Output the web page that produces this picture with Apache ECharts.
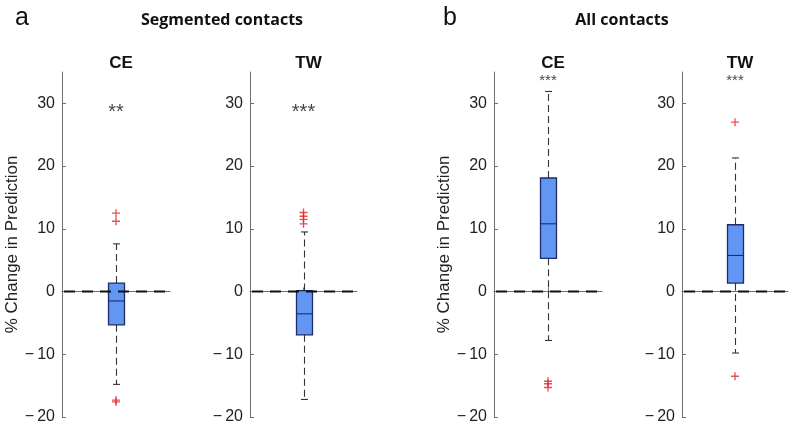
<!DOCTYPE html>
<html><head><meta charset="utf-8">
<script src="https://cdn.jsdelivr.net/npm/echarts@6/dist/echarts.min.js"></script>
<style>html,body{margin:0;padding:0;background:#fff}#c{width:800px;height:434px}</style>
</head><body><div id="c"></div>
<script>
// ---- data ----
const panelNames = ['CE', 'TW', 'CE', 'TW'];
const groupTitles = ['Segmented contacts', 'All contacts'];
const groupLetters = ['a', 'b'];
// [lower whisker, Q1, median, Q3, upper whisker]
const boxAce = [-14.8, -5.3, -1.5, 1.35, 7.6];
const boxAtw = [-17.2, -6.9, -3.55, 0.15, 9.5];
const boxBce = [-7.8, 5.3, 10.8, 18.1, 31.9];
const boxBtw = [-9.8, 1.35, 5.75, 10.65, 21.3];
const outAce = [12.5, 11.2, -17.3, -17.6];
const outAtw = [12.6, 12.0, 11.5, 10.8];
const outBce = [-14.3, -14.7, -15.3];
const outBtw = [27.0, -13.5];
const starLabels = ['**', '***', '***', '***'];
const starValues = [28.5, 28.5, 33.6, 33.6];
const refValue = 0;
const yTicks = [-20, -10, 0, 10, 20, 30];
const yLabel = '% Change in Prediction';

const boxes = [boxAce, boxAtw, boxBce, boxBtw];
const outs = [outAce, outAtw, outBce, outBtw];

// ---- layout ----
const gridLefts = [62, 250, 494, 682];
const gridWidths = [108, 107, 108, 106];
const centers = gridLefts.map((l, i) => l + gridWidths[i] / 2);

const chart = echarts.init(document.getElementById('c'), null, {renderer: 'canvas'});

function fmtTick(v) {
  return v < 0 ? '\u2212\u2009' + Math.abs(v) : String(v);
}

function renderBox(params, api) {
  const x = api.value(0);
  const lo = api.coord([x, api.value(1)]);
  const q1 = api.coord([x, api.value(2)]);
  const md = api.coord([x, api.value(3)]);
  const q3 = api.coord([x, api.value(4)]);
  const hi = api.coord([x, api.value(5)]);
  const zr = api.coord([x, refValue]);
  const cs = params.coordSys;
  const cx = Math.round(lo[0]) + 0.5;
  const hw = 8, cw = 3.5;
  const dash = {stroke: '#333', lineWidth: 1.1, lineDash: [7, 4]};
  const solid = {stroke: '#333', lineWidth: 1.1};
  return {type: 'group', children: [
    {type: 'line', shape: {x1: cx, y1: q3[1], x2: cx, y2: hi[1]}, style: dash},
    {type: 'line', shape: {x1: cx, y1: q1[1], x2: cx, y2: lo[1]}, style: dash},
    {type: 'line', shape: {x1: cx - cw, y1: hi[1], x2: cx + cw, y2: hi[1]}, style: solid},
    {type: 'line', shape: {x1: cx - cw, y1: lo[1], x2: cx + cw, y2: lo[1]}, style: solid},
    {type: 'rect', shape: {x: cx - hw, y: q3[1], width: 2 * hw, height: q1[1] - q3[1]},
      style: {fill: '#6196f2', stroke: '#1c2c6a', lineWidth: 1.3}},
    {type: 'line', shape: {x1: cx - hw, y1: md[1], x2: cx + hw, y2: md[1]},
      style: {stroke: '#1c2c6a', lineWidth: 1.1}},
    {type: 'line', shape: {x1: cs.x + 2, y1: zr[1], x2: cs.x + cs.width, y2: zr[1]},
      style: {stroke: '#111', lineWidth: 2, lineDash: [11, 7]}}
  ]};
}

const grids = [], xAxes = [], yAxes = [], series = [], titles = [];
for (let i = 0; i < 4; i++) {
  grids.push({left: gridLefts[i], width: gridWidths[i], top: 72, height: 345});
  xAxes.push({
    type: 'category', gridIndex: i, data: [panelNames[i]],
    axisLine: {lineStyle: {color: '#6e6e6e', width: 1}},
    axisTick: {show: true, inside: true, alignWithLabel: true, length: 4, lineStyle: {color: '#6e6e6e'}},
    axisLabel: {show: false}, splitLine: {show: false}
  });
  yAxes.push({
    type: 'value', gridIndex: i, min: -20, max: 35, interval: 5,
    name: (i === 0 || i === 2) ? yLabel : '',
    nameLocation: 'middle', nameGap: 35, nameRotate: 90,
    nameTextStyle: {fontFamily: 'Liberation Sans', fontSize: 17, color: '#222'},
    axisLine: {show: true, lineStyle: {color: '#6e6e6e', width: 1}},
    axisTick: {show: true, inside: true, length: 4, lineStyle: {color: '#6e6e6e'}, customValues: yTicks},
    axisLabel: {fontFamily: 'Liberation Sans', fontSize: 16, color: '#222', margin: 7,
      customValues: yTicks, formatter: fmtTick},
    splitLine: {show: false}
  });
  series.push({
    type: 'custom', xAxisIndex: i, yAxisIndex: i, z: 2,
    renderItem: renderBox,
    data: [[0].concat(boxes[i])]
  });
  series.push({
    type: 'scatter', xAxisIndex: i, yAxisIndex: i, z: 3,
    symbol: 'path://M4,0h1.6v4h4v1.6h-4v4h-1.6v-4h-4v-1.6h4z', symbolSize: 8,
    itemStyle: {color: '#e0262b'},
    data: outs[i].map(v => [0, v])
  });
  series.push({
    type: 'scatter', xAxisIndex: i, yAxisIndex: i, z: 6, symbolSize: 1,
    itemStyle: {color: 'rgba(0,0,0,0)'},
    label: {show: true, position: 'inside', formatter: starLabels[i],
      fontFamily: 'Liberation Sans', fontSize: i < 2 ? 20 : 15, color: '#111'},
    data: [[0, starValues[i]]]
  });
  titles.push({text: panelNames[i], left: centers[i], top: 50, textAlign: 'center',
    textStyle: {fontFamily: 'Liberation Sans', fontWeight: 'bold', fontSize: 17, color: '#111'}});
}
titles.push({text: groupLetters[0], left: 10, top: 1,
  textStyle: {fontFamily: 'Liberation Sans', fontWeight: 'normal', fontSize: 25, color: '#111'}});
titles.push({text: groupLetters[1], left: 438, top: 1,
  textStyle: {fontFamily: 'Liberation Sans', fontWeight: 'normal', fontSize: 25, color: '#111'}});
titles.push({text: groupTitles[0], left: 217, top: 7, textAlign: 'center',
  textStyle: {fontFamily: 'Open Sans', fontWeight: 'bold', fontSize: 16, color: '#111'}});
titles.push({text: groupTitles[1], left: 617, top: 7, textAlign: 'center',
  textStyle: {fontFamily: 'Open Sans', fontWeight: 'bold', fontSize: 16, color: '#111'}});

chart.setOption({
  animation: false,
  backgroundColor: '#fff',
  title: titles,
  grid: grids,
  xAxis: xAxes,
  yAxis: yAxes,
  series: series
});
</script>
</body></html>
